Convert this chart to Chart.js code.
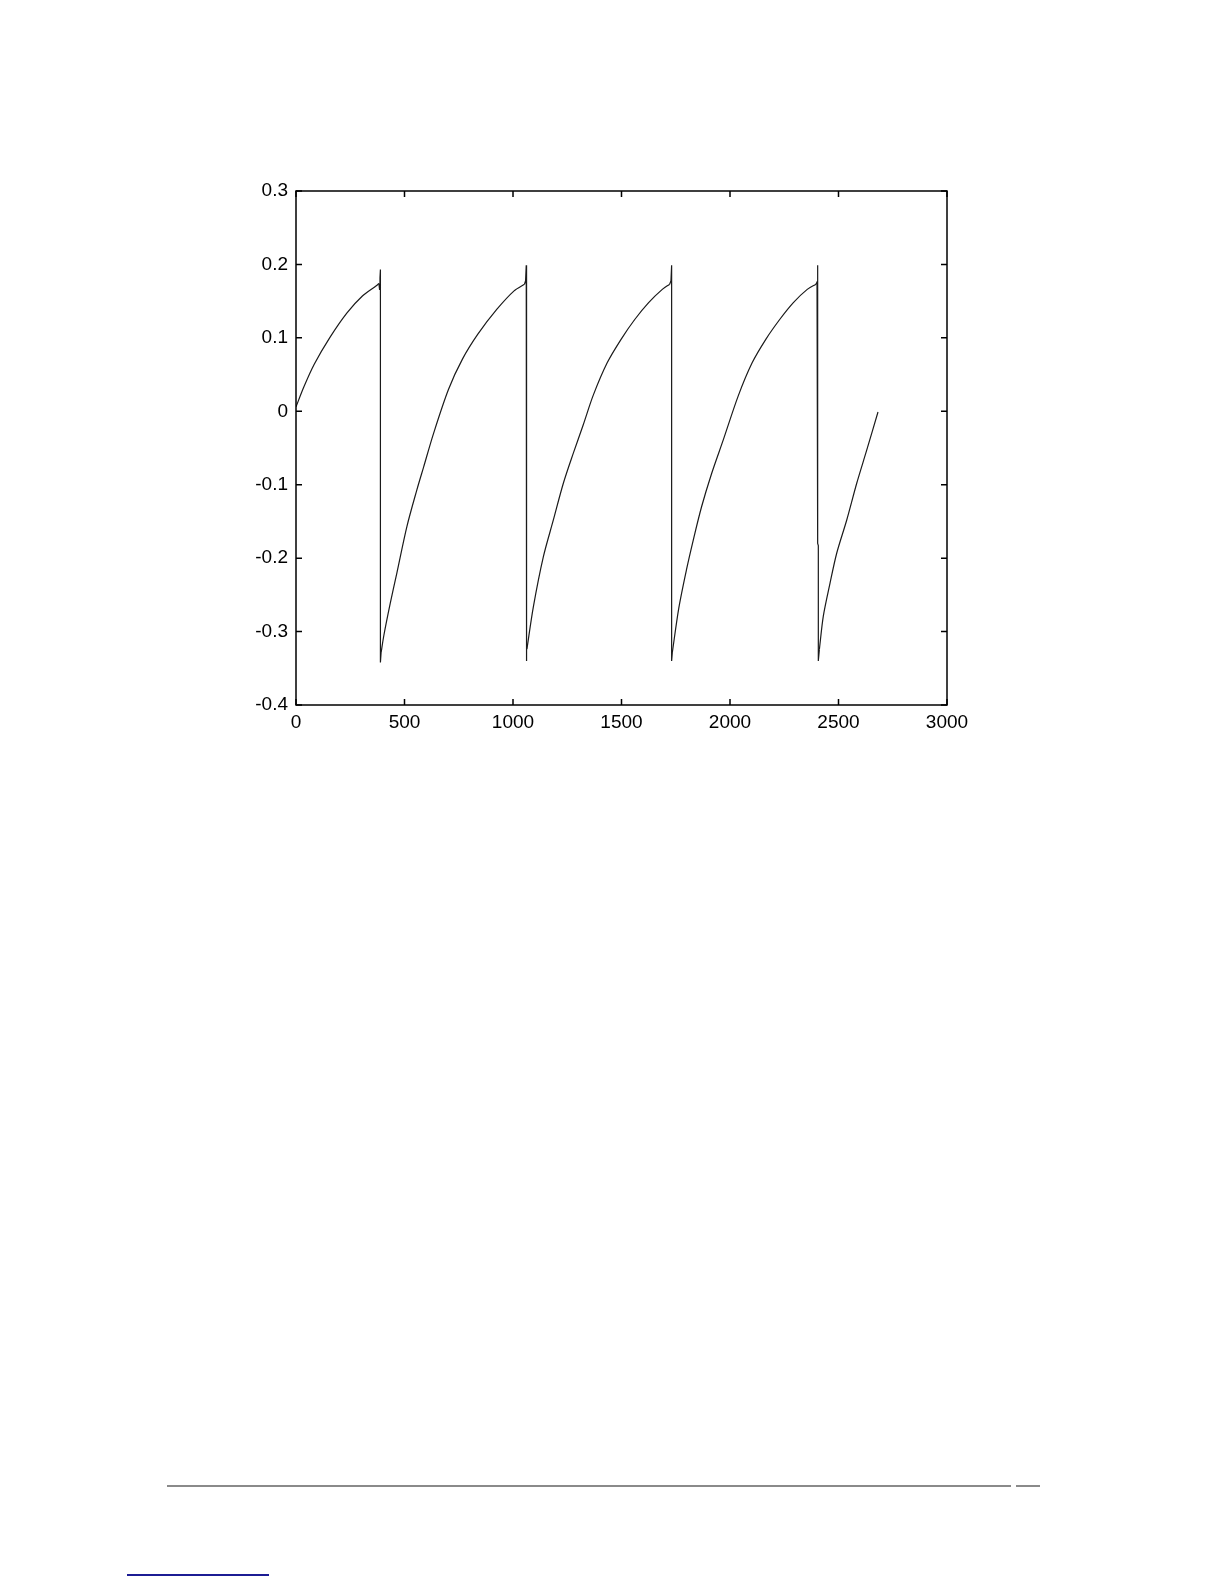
<!DOCTYPE html>
<html>
<head>
<meta charset="utf-8">
<script src="https://cdn.jsdelivr.net/npm/chart.js@4.4.1/dist/chart.umd.min.js"></script>
<style>
    body { margin: 0; background: #fff; }
    #page { position: relative; width: 1224px; height: 1584px; overflow: hidden; }
    #plotWrap { position: absolute; left: 0; top: 0; width: 1224px; height: 760px; }
    .rule { position: absolute; }
</style>
</head>
<body>
<div id="page">
    <div id="plotWrap"><canvas id="signalChart" width="1224" height="760"></canvas></div>
    <div class="rule" style="left:167px; top:1485px; width:844px; height:2px; background:#8a8a8a;"></div>
    <div class="rule" style="left:1016px; top:1485px; width:24px; height:2px; background:#8a8a8a;"></div>
    <div class="rule" style="left:127px; top:1574px; width:142px; height:2px; background:#1c1c94;"></div>
</div>
<script>
// rising parts of the waveform (sample index, value)
const rise1X = [0, 36, 84, 155, 235, 306, 370, 382];
const rise1Y = [0.006, 0.033, 0.064, 0.100, 0.134, 0.157, 0.171, 0.174];
const rise2X = [392, 405, 434, 465, 511, 557, 588, 634, 703, 767, 838, 926, 1005, 1053];
const rise2Y = [-0.329, -0.305, -0.262, -0.220, -0.157, -0.107, -0.076, -0.030, 0.030, 0.071, 0.105, 0.139, 0.164, 0.173];
const rise3X = [1064, 1094, 1140, 1186, 1232, 1278, 1323, 1370, 1434, 1498, 1561, 1625, 1688, 1722];
const rise3Y = [-0.324, -0.266, -0.198, -0.148, -0.098, -0.057, -0.019, 0.022, 0.066, 0.098, 0.125, 0.148, 0.166, 0.173];
const rise4X = [1734, 1764, 1800, 1831, 1869, 1915, 1969, 2038, 2102, 2165, 2229, 2292, 2356, 2396];
const rise4Y = [-0.329, -0.268, -0.215, -0.175, -0.130, -0.085, -0.039, 0.021, 0.066, 0.098, 0.125, 0.148, 0.166, 0.173];
const rise5X = [2412, 2430, 2461, 2492, 2538, 2584, 2630, 2682];
const rise5Y = [-0.324, -0.279, -0.234, -0.193, -0.148, -0.098, -0.053, -0.001];

// the resets: small spike at the top, then the drop
const reset1X = [382, 385, 387, 389, 389, 392];
const reset1Y = [0.174, 0.166, 0.182, 0.193, -0.342, -0.329];
const reset2X = [1053, 1058, 1061, 1061, 1064];
const reset2Y = [0.173, 0.178, 0.199, -0.340, -0.324];
const reset3X = [1722, 1728, 1731, 1731, 1734];
const reset3Y = [0.173, 0.178, 0.199, -0.340, -0.329];
const reset4X = [2396, 2401, 2404, 2404, 2407, 2407, 2412];
const reset4Y = [0.173, 0.176, 0.199, -0.180, -0.183, -0.340, -0.324];

const xTicks = [0, 500, 1000, 1500, 2000, 2500, 3000];
const yTicks = [-0.4, -0.3, -0.2, -0.1, 0, 0.1, 0.2, 0.3];

function toPoints(xs, ys) {
    return xs.map((x, i) => ({ x: x, y: ys[i] }));
}

function lineSet(xs, ys, tension) {
    return {
        data: toPoints(xs, ys),
        showLine: true,
        borderColor: '#1a1a1a',
        borderWidth: 1.2,
        pointRadius: 0,
        tension: tension,
        fill: false
    };
}

// matlab style box with inward ticks on all four sides
const boxPlugin = {
    id: 'boxPlugin',
    afterDraw(chart) {
        const c = chart.ctx;
        const a = chart.chartArea;
        const xs = chart.scales.x;
        const ys = chart.scales.y;
        const len = 6;
        c.save();
        c.strokeStyle = '#000';
        c.lineWidth = 1.5;
        c.strokeRect(a.left, a.top, a.right - a.left, a.bottom - a.top);
        c.beginPath();
        xTicks.forEach(v => {
            const px = xs.getPixelForValue(v);
            c.moveTo(px, a.bottom); c.lineTo(px, a.bottom - len);
            c.moveTo(px, a.top); c.lineTo(px, a.top + len);
        });
        yTicks.forEach(v => {
            const py = ys.getPixelForValue(v);
            c.moveTo(a.left, py); c.lineTo(a.left + len, py);
            c.moveTo(a.right, py); c.lineTo(a.right - len, py);
        });
        c.stroke();
        c.restore();
    }
};

const ctx = document.getElementById('signalChart').getContext('2d');
new Chart(ctx, {
    type: 'scatter',
    data: {
        datasets: [
            lineSet(rise1X, rise1Y, 0.3),
            lineSet(reset1X, reset1Y, 0),
            lineSet(rise2X, rise2Y, 0.3),
            lineSet(reset2X, reset2Y, 0),
            lineSet(rise3X, rise3Y, 0.3),
            lineSet(reset3X, reset3Y, 0),
            lineSet(rise4X, rise4Y, 0.3),
            lineSet(reset4X, reset4Y, 0),
            lineSet(rise5X, rise5Y, 0.3)
        ]
    },
    options: {
        responsive: false,
        animation: false,
        layout: { padding: { top: 191, right: 277, left: 0, bottom: 0 } },
        plugins: { legend: { display: false }, tooltip: { enabled: false } },
        scales: {
            x: {
                type: 'linear',
                min: 0, max: 3000,
                afterBuildTicks: s => { s.ticks = xTicks.map(v => ({ value: v })); },
                afterFit: s => { s.height = 55; },
                grid: { display: false, drawTicks: false },
                border: { display: false },
                ticks: {
                    color: '#000',
                    padding: 6,
                    maxRotation: 0,
                    font: { family: '"Liberation Sans", Arial, sans-serif', size: 19 },
                    callback: v => String(v)
                }
            },
            y: {
                type: 'linear',
                min: -0.4, max: 0.3,
                afterBuildTicks: s => { s.ticks = yTicks.map(v => ({ value: v })); },
                afterFit: s => { s.width = 296; },
                grid: { display: false, drawTicks: false },
                border: { display: false },
                ticks: {
                    color: '#000',
                    padding: 8,
                    font: { family: '"Liberation Sans", Arial, sans-serif', size: 19 },
                    callback: v => {
                        const r = Math.round(v * 10) / 10;
                        return r === 0 ? '0' : String(r);
                    }
                }
            }
        }
    },
    plugins: [boxPlugin]
});
</script>
</body>
</html>
